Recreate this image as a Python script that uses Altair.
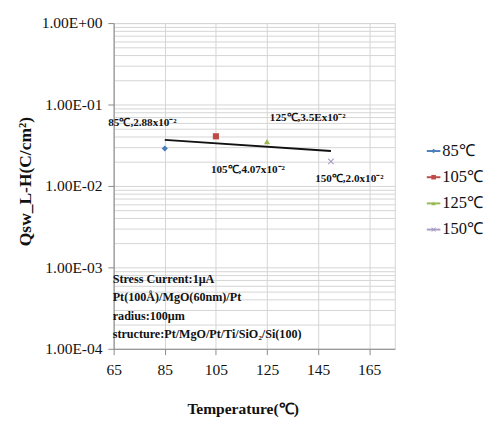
import altair as alt
import pandas as pd

# ---- data ----
series = ["85℃", "105℃", "125℃", "150℃"]
temps = [85, 105, 125, 150]
qsw = [0.0288, 0.0407, 0.035, 0.020]
point_labels = ["85℃,2.88x10⁻²", "105℃,4.07x10⁻²", "125℃,3.5Ex10⁻²", "150℃,2.0x10⁻²"]
trend_x = [85, 150]
trend_y = [0.0368, 0.0268]
note_lines = ["Stress Current:1μA", "Pt(100Å)/MgO(60nm)/Pt", "radius:100μm",
              "structure:Pt/MgO/Pt/Ti/SiO₂/Si(100)"]

colors = ["#4a7ebb", "#be4b48", "#98b954", "#a99bc4"]
XPATH = "M-1,-0.75L-0.75,-1L0,-0.25L0.75,-1L1,-0.75L0.25,0L1,0.75L0.75,1L0,0.25L-0.75,1L-1,0.75L-0.25,0Z"
shapes_plot = ["diamond", "square", "triangle-up", XPATH]

df = pd.DataFrame({"series": series, "T": temps, "Q": qsw, "label": point_labels})
trend = pd.DataFrame({"T": trend_x, "Q": trend_y})

FONT = "Liberation Serif"

grid_y = [m * 10.0 ** e for e in range(-4, 0) for m in range(1, 10)] + [1.0]
grid_x = list(range(65, 180, 5))

xscale = alt.Scale(domain=[65, 175], nice=False, zero=False)
yscale = alt.Scale(type="log", domain=[1e-4, 1], nice=False)
cscale = alt.Scale(domain=series, range=colors)
sscale = alt.Scale(domain=series, range=shapes_plot)

major_test = "abs(log(datum.value)/LN10 - round(log(datum.value)/LN10)) < 0.001"
xmajor_test = "(datum.value - 65) % 20 == 0 && datum.value <= 165"

x_axis = alt.Axis(
    values=grid_x,
    title="Temperature(℃)",
    labelExpr=f"{xmajor_test} ? datum.value : ''",
    tickOpacity={"condition": {"test": xmajor_test, "value": 1}, "value": 0},
    tickSize=6, tickColor="#888888", labelFlush=False,
    labelFont=FONT, labelFontSize=16, labelColor="#111111", labelPadding=8,
    titleFont=FONT, titleFontSize=16, titleFontWeight="bold", titleColor="#111111",
    titleX=133, titleY=62, titleBaseline="middle",
    domainColor="#888888", gridColor="#d4d4d4", grid=True,
)
y_axis = alt.Axis(
    values=grid_y,
    title="Qsw_L-H(C/cm²)",
    labelExpr=f"{major_test} ? (datum.value >= 1 ? '1.00E+00' : '1.00E-0' + (-round(log(datum.value)/LN10))) : ''",
    tickOpacity={"condition": {"test": major_test, "value": 1}, "value": 0},
    tickSize=6, tickColor="#888888", labelFlush=False,
    labelFont=FONT, labelFontSize=16, labelColor="#111111", labelPadding=6,
    titleFont=FONT, titleFontSize=18, titleFontWeight="bold", titleColor="#111111",
    titleX=-91, titleY=163, titleAngle=270, titleBaseline="middle",
    domainColor="#888888", gridColor="#d4d4d4", grid=True,
)

base = alt.Chart(df)

points = base.mark_point(filled=True, size=40, opacity=1).encode(
    x=alt.X("T:Q", scale=xscale, axis=x_axis),
    y=alt.Y("Q:Q", scale=yscale, axis=y_axis),
    color=alt.Color("series:N", scale=cscale, legend=None),
    shape=alt.Shape("series:N", scale=sscale, legend=None),
)

trend_line = alt.Chart(trend).mark_line(color="#111111", strokeWidth=2).encode(
    x=alt.X("T:Q", scale=xscale), y=alt.Y("Q:Q", scale=yscale)
)

offsets = [(-23, -26), (33, 35), (42, -24), (19, 18)]
label_layers = []
for i, (dx, dy) in enumerate(offsets):
    label_layers.append(
        alt.Chart(df.iloc[[i]]).mark_text(
            font=FONT, fontSize=11.5, fontWeight="bold", color="#111111", dx=dx, dy=dy
        ).encode(x=alt.X("T:Q", scale=xscale), y=alt.Y("Q:Q", scale=yscale), text="label:N")
    )

note = alt.Chart(pd.DataFrame({"t": [note_lines]})).mark_text(
    font=FONT, fontSize=12.5, fontWeight="bold", color="#111111",
    align="left", baseline="middle", lineHeight=19, dx=-1
).encode(x=alt.datum(65), y=alt.datum(7.2e-4), text="t")

main = alt.layer(points, trend_line, *label_layers, note).properties(width=290, height=336)

# ---- legend panel (Excel-style line+marker entries) ----
lscale = alt.Scale(type="point", domain=series, range=[132, 213], padding=0)
lbase = alt.Chart(df)
leg_rule = lbase.mark_rule(strokeWidth=2).encode(
    x=alt.value(0), x2=alt.value(14),
    y=alt.Y("series:N", scale=lscale, axis=None),
    color=alt.Color("series:N", scale=cscale, legend=None),
)
leg_pt = lbase.mark_point(filled=True, size=22, opacity=1).encode(
    x=alt.value(7),
    y=alt.Y("series:N", scale=lscale, axis=None),
    color=alt.Color("series:N", scale=cscale, legend=None),
    shape=alt.Shape("series:N", scale=sscale, legend=None),
)
leg_txt = lbase.mark_text(font=FONT, fontSize=17, color="#111111", align="left",
                          baseline="middle").encode(
    x=alt.value(16),
    y=alt.Y("series:N", scale=lscale, axis=None),
    text="series:N",
)
legend_panel = alt.layer(leg_rule, leg_pt, leg_txt).properties(
    width=50, height=336, view=alt.ViewBackground(strokeOpacity=0)
)

chart = alt.hconcat(main, legend_panel, spacing=31).resolve_scale(
    x="independent", y="independent"
).properties(
    padding={"left": 8, "top": 0, "right": 0, "bottom": 0},
    background="white",
).configure_view(stroke="#d4d4d4")

chart.save("out.html", embed_options={"renderer": "svg", "actions": False})
